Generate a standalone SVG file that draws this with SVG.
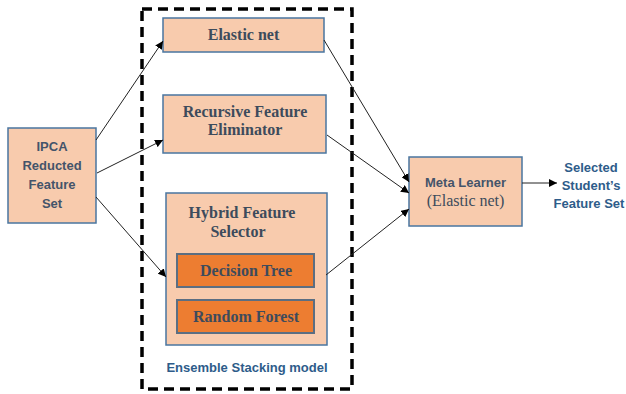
<svg xmlns="http://www.w3.org/2000/svg" width="626" height="394" viewBox="0 0 626 394">
<defs>
<marker id="ah" viewBox="0 0 10 10" refX="10" refY="5" markerWidth="8" markerHeight="8" markerUnits="userSpaceOnUse" orient="auto">
<path d="M0,0 L10,5 L0,10 z" fill="#000"/>
</marker>
<style>
.box{fill:#F8CBAD;stroke:#4A76A0;stroke-width:1.5}
.inner{fill:#ED7D31;stroke:#5B6E82;stroke-width:2}
.ser{font-family:"Liberation Serif","Times New Roman",serif;font-weight:bold;font-size:16px;fill:#3D4B5C;text-anchor:middle}
.serr{font-family:"Liberation Serif","Times New Roman",serif;font-size:16px;fill:#3D4B5C;text-anchor:middle}
.sans{font-family:"Liberation Sans",Arial,sans-serif;font-weight:bold;font-size:13px;fill:#44546A;text-anchor:middle}
.blue{font-family:"Liberation Sans",Arial,sans-serif;font-weight:bold;font-size:13px;fill:#2E5C8A;text-anchor:middle}
.con{stroke:#222;stroke-width:1;fill:none;marker-end:url(#ah)}
</style>
</defs>
<rect width="626" height="394" fill="#fff"/>
<g id="ensemble">
<rect x="142" y="9" width="210" height="380" fill="none" stroke="#000" stroke-width="3.5" stroke-dasharray="10 6"/>
<text class="blue" x="247" y="372" font-size="12.5">Ensemble Stacking model</text>
</g>
<g id="ipca">
<rect class="box" x="8" y="128" width="88" height="95"/>
<text class="sans" x="52" y="151">IPCA</text>
<text class="sans" x="52" y="170">Reducted</text>
<text class="sans" x="52" y="189">Feature</text>
<text class="sans" x="52" y="208">Set</text>
</g>
<g id="elastic">
<rect class="box" x="163" y="18" width="161" height="34"/>
<text class="ser" x="243.5" y="40">Elastic net</text>
</g>
<g id="rfe">
<rect class="box" x="163" y="95" width="163" height="58"/>
<text class="ser" x="245" y="117">Recursive Feature</text>
<text class="ser" x="245" y="135">Eliminator</text>
</g>
<g id="hybrid">
<rect class="box" x="166" y="193" width="161" height="152"/>
<text class="ser" x="242" y="218">Hybrid Feature</text>
<text class="ser" x="238" y="237">Selector</text>
</g>
<g id="dtree">
<rect class="inner" x="177" y="254" width="137" height="33"/>
<text class="ser" x="246" y="276">Decision Tree</text>
</g>
<g id="rforest">
<rect class="inner" x="177" y="300" width="137" height="33"/>
<text class="ser" x="246" y="322">Random Forest</text>
</g>
<g id="meta">
<rect class="box" x="409" y="157" width="113" height="69"/>
<text class="sans" x="465.5" y="187">Meta Learner</text>
<text class="serr" x="465.5" y="206">(Elastic net)</text>
</g>
<g id="output">
<text class="blue" x="591" y="172">Selected</text>
<text class="blue" x="591" y="190">Student’s</text>
<text class="blue" x="589" y="208" font-size="12.8">Feature Set</text>
</g>
<g id="connectors">
<line class="con" x1="96" y1="140" x2="163" y2="41"/>
<line class="con" x1="97" y1="173" x2="163" y2="140"/>
<line class="con" x1="96" y1="197" x2="166" y2="277"/>
<line class="con" x1="324" y1="40" x2="409" y2="182"/>
<line class="con" x1="327" y1="135" x2="409" y2="193"/>
<line class="con" x1="326" y1="275" x2="409" y2="209"/>
<line class="con" x1="522" y1="183" x2="557" y2="183"/>
</g>
</svg>
